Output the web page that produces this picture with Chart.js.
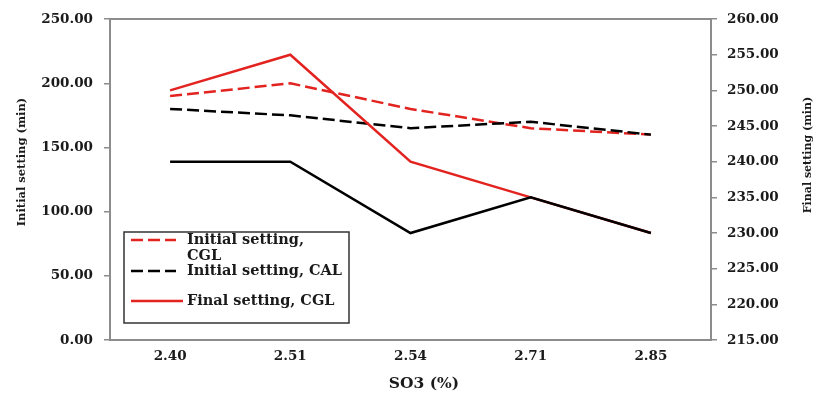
<!DOCTYPE html>
<html>
<head>
<meta charset="utf-8">
<script src="https://cdn.jsdelivr.net/npm/chart.js@4.4.1/dist/chart.umd.min.js"></script>
<style>
html,body{margin:0;padding:0;background:#fff;}
#wrap{width:818px;height:394px;position:relative;}
</style>
</head>
<body>
<div id="wrap"><canvas id="c" width="818" height="394"></canvas></div>
<script>
// ---- data ----
const categories = ['2.40', '2.51', '2.54', '2.71', '2.85'];
const initialCGL = [190, 200, 180, 165, 160];   // left axis
const initialCAL = [180, 175, 165, 170, 160];   // left axis
const finalCGL   = [250, 255, 240, 235, 230];   // right axis
const finalCAL   = [240, 240, 230, 235, 230];   // right axis
const seriesLabels = ['Initial setting, CGL', 'Initial setting, CAL', 'Final setting, CGL', 'Final setting, CAL'];
const legendLines = [['Initial setting,', 'CGL'], ['Initial setting, CAL'], ['Final setting, CGL']];
const leftTitle = 'Initial setting (min)';
const rightTitle = 'Final setting (min)';
const xTitle = 'SO3 (%)';

const RED = '#e2231f';
const BLACK = '#000000';
const AXIS = '#8c8c8c';
const FONT = "'DejaVu Serif'";

const frame = {
  id: 'frame',
  beforeDatasetsDraw(chart) {
    const {ctx, chartArea: a} = chart;
    ctx.save();
    ctx.strokeStyle = AXIS; ctx.lineWidth = 2;
    ctx.beginPath(); ctx.moveTo(a.left - 1, a.top); ctx.lineTo(a.right + 1, a.top); ctx.stroke();
    ctx.restore();
  },
  afterDraw(chart) {
    const {ctx} = chart;
    ctx.save();
    ctx.fillStyle = '#1a1a1a';
    ctx.textAlign = 'center'; ctx.textBaseline = 'middle';
    ctx.font = "bold 11.5px " + FONT;
    ctx.save(); ctx.translate(22, 162); ctx.rotate(-Math.PI / 2); ctx.fillText(leftTitle, 0, 0); ctx.restore();
    ctx.font = "bold 11px " + FONT;
    ctx.save(); ctx.translate(808, 155); ctx.rotate(-Math.PI / 2); ctx.fillText(rightTitle, 0, 0); ctx.restore();
    ctx.font = "bold 15.5px " + FONT;
    ctx.fillText(xTitle, 424, 384);
    // legend
    const bx = 124, by = 232, bw = 225, bh = 91;
    ctx.fillStyle = '#fff';
    ctx.fillRect(bx, by, bw, bh);
    ctx.strokeStyle = '#333'; ctx.lineWidth = 1.5;
    ctx.strokeRect(bx, by, bw, bh);
    const rows = [
      {color: RED, dash: [12, 5], x2: 176, ys: [240, 256]},
      {color: BLACK, dash: [12, 5], x2: 176, ys: [271]},
      {color: RED, dash: [], x2: 183, ys: [301]}
    ];
    ctx.font = "bold 14.5px " + FONT;
    ctx.textAlign = 'left';
    rows.forEach((r, i) => {
      ctx.strokeStyle = r.color; ctx.lineWidth = 2.5; ctx.setLineDash(r.dash);
      ctx.beginPath(); ctx.moveTo(131, r.ys[0]); ctx.lineTo(r.x2, r.ys[0]); ctx.stroke();
      ctx.setLineDash([]);
      ctx.fillStyle = '#1a1a1a';
      legendLines[i].forEach((t, j) => ctx.fillText(t, 187, r.ys[j]));
    });
    ctx.restore();
  }
};

const tickFont = {family: FONT, size: 13.5, weight: 'bold'};

new Chart(document.getElementById('c'), {
  type: 'line',
  data: {
    labels: categories,
    datasets: [
      {label: seriesLabels[0], data: initialCGL, yAxisID: 'yL', borderColor: RED, borderDash: [12, 5], order: 4},
      {label: seriesLabels[1], data: initialCAL, yAxisID: 'yL', borderColor: BLACK, borderDash: [12, 5], order: 3},
      {label: seriesLabels[2], data: finalCGL, yAxisID: 'yR', borderColor: RED, order: 2},
      {label: seriesLabels[3], data: finalCAL, yAxisID: 'yR', borderColor: BLACK, order: 1}
    ]
  },
  options: {
    responsive: false,
    animation: false,
    layout: {padding: {top: 15, left: 0, right: 0, bottom: 0}},
    elements: {
      line: {borderWidth: 2.5, tension: 0, fill: false},
      point: {radius: 0, hoverRadius: 0}
    },
    plugins: {legend: {display: false}, tooltip: {enabled: false}},
    scales: {
      x: {
        type: 'category', offset: true,
        grid: {display: false, drawTicks: false},
        border: {display: true, color: AXIS, width: 2},
        ticks: {font: tickFont, color: '#1a1a1a', padding: 8, maxRotation: 0},
        afterFit(s) { s.height = 54; }
      },
      yL: {
        position: 'left', min: 0, max: 250,
        grid: {drawOnChartArea: false, drawTicks: true, tickLength: 6, color: AXIS, lineWidth: 1.5},
        border: {display: true, color: AXIS, width: 2},
        ticks: {stepSize: 50, font: tickFont, color: '#1a1a1a', padding: 11, callback: v => Number(v).toFixed(2)},
        afterFit(s) { s.width = 110; }
      },
      yR: {
        position: 'right', min: 215, max: 260,
        grid: {drawOnChartArea: false, drawTicks: true, tickLength: 6, color: AXIS, lineWidth: 1.5},
        border: {display: true, color: AXIS, width: 2},
        ticks: {stepSize: 5, font: tickFont, color: '#1a1a1a', padding: 10, callback: v => Number(v).toFixed(2)},
        afterFit(s) { s.width = 107; }
      }
    }
  },
  plugins: [frame]
});
</script>
</body>
</html>
